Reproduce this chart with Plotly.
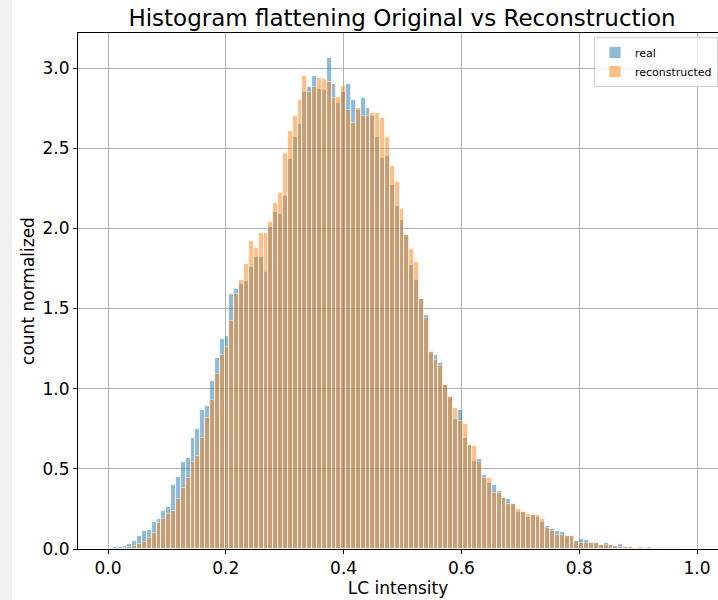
import numpy as np
import plotly.graph_objects as go

# ---- data ----
BIN_START = 0.0
BIN_END = 0.99
N_BINS = 120

real = [
    0.005, 0.01, 0.015, 0.02, 0.03, 0.05, 0.08, 0.11, 0.12, 0.17,
    0.19, 0.24, 0.26, 0.40, 0.45, 0.54, 0.57, 0.69, 0.75, 0.87,
    0.89, 1.05, 1.19, 1.31, 1.33, 1.59, 1.62, 1.65, 1.67, 1.76,
    1.82, 1.82, 1.73, 2.01, 2.10, 2.09, 2.20, 2.43, 2.57, 2.65,
    2.85, 2.88, 2.95, 2.87, 2.86, 3.06, 2.90, 2.78, 2.85, 2.90,
    2.80, 2.74, 2.81, 2.75, 2.70, 2.57, 2.44, 2.45, 2.27, 2.14,
    2.05, 1.96, 1.77, 1.68, 1.56, 1.46, 1.23, 1.21, 1.16, 1.02,
    0.95, 0.81, 0.87, 0.69, 0.65, 0.55, 0.56, 0.46, 0.41, 0.40,
    0.36, 0.32, 0.31, 0.28, 0.23, 0.23, 0.20, 0.21, 0.20, 0.17,
    0.145, 0.125, 0.11, 0.105, 0.08, 0.08, 0.05, 0.065, 0.055, 0.035,
    0.035, 0.025, 0.035, 0.025, 0.02, 0.03, 0.012, 0.01, 0.008, 0.015,
    0.006, 0.01, 0.005, 0.004, 0.004, 0.004, 0.007, 0.003, 0.002, 0.001,
]

reconstructed = [
    0.0, 0.002, 0.003, 0.005, 0.01, 0.02, 0.03, 0.045, 0.07, 0.10,
    0.16, 0.19, 0.22, 0.24, 0.31, 0.38, 0.44, 0.54, 0.58, 0.69,
    0.82, 0.93, 1.09, 1.21, 1.26, 1.42, 1.59, 1.68, 1.78, 1.92,
    1.88, 1.97, 1.97, 2.04, 2.16, 2.22, 2.47, 2.61, 2.70, 2.80,
    2.95, 2.85, 2.88, 2.94, 2.93, 2.91, 2.81, 2.82, 2.89, 2.74,
    2.66, 2.75, 2.70, 2.70, 2.72, 2.72, 2.69, 2.57, 2.39, 2.29,
    2.12, 1.96, 1.87, 1.79, 1.56, 1.44, 1.23, 1.18, 1.14, 1.02,
    0.95, 0.88, 0.80, 0.78, 0.65, 0.64, 0.54, 0.44, 0.44, 0.35,
    0.35, 0.32, 0.28, 0.28, 0.25, 0.23, 0.22, 0.21, 0.21, 0.19,
    0.13, 0.11, 0.09, 0.085, 0.08, 0.08, 0.05, 0.04, 0.035, 0.035,
    0.035, 0.025, 0.025, 0.025, 0.02, 0.015, 0.012, 0.01, 0.008, 0.008,
    0.006, 0.005, 0.005, 0.004, 0.003, 0.003, 0.003, 0.002, 0.001, 0.0,
]

x_ticks = [0.0, 0.2, 0.4, 0.6, 0.8, 1.0]
y_ticks = [0.0, 0.5, 1.0, 1.5, 2.0, 2.5, 3.0]

# ---- derived bins ----
edges = np.linspace(BIN_START, BIN_END, N_BINS + 1)
centers = (edges[:-1] + edges[1:]) / 2
width = edges[1] - edges[0]

FONT = "DejaVu Sans"

fig = go.Figure()
fig.add_trace(go.Bar(
    x=centers, y=real, width=width, name="real",
    marker=dict(color="#1f77b4", line=dict(color="white", width=0.8)),
    opacity=0.5,
))
fig.add_trace(go.Bar(
    x=centers, y=reconstructed, width=width, name="reconstructed",
    marker=dict(color="#ff7f0e", line=dict(color="white", width=0.8)),
    opacity=0.5,
))

L, T, B = 78, 33, 51
W, H = 718, 600
plot_w = W - L
plot_h = H - T - B

fig.update_layout(
    width=W, height=H,
    margin=dict(l=L, r=0, t=T, b=B, pad=0, autoexpand=False),
    barmode="overlay",
    bargap=0,
    paper_bgcolor="white",
    plot_bgcolor="white",
    font=dict(family=FONT, color="black", size=17),
    title=dict(
        text="Histogram flattening Original vs Reconstruction",
        font=dict(family=FONT, size=23, color="black"),
        x=402 / W, xanchor="center", xref="container",
        y=1 - 18 / H, yanchor="middle", yref="container",
    ),
    showlegend=True,
    legend=dict(
        x=1.0, xanchor="right",
        y=(549 - 37) / plot_h, yanchor="top",
        bgcolor="rgba(255,255,255,0.85)",
        bordercolor="#d0d0d0", borderwidth=1,
        font=dict(family=FONT, size=11, color="black"),
        itemwidth=30, tracegroupgap=0,
    ),
    xaxis=dict(
        range=[(L - 108) / 589, (W - 108) / 589],
        tickvals=x_ticks,
        ticktext=[f"{v:.1f}" for v in x_ticks],
        showgrid=True, gridcolor="#b0b0b0", gridwidth=1,
        zeroline=False,
        showline=True, linecolor="black", linewidth=1, mirror=True,
        ticks="outside", ticklen=4, tickcolor="black", tickwidth=1,
        tickfont=dict(family=FONT, size=17, color="black"),
        title=dict(text="LC intensity", font=dict(family=FONT, size=17, color="black"), standoff=3),
    ),
    yaxis=dict(
        range=[0, (549 - T) / 160.33],
        tickvals=y_ticks,
        ticktext=[f"{v:.1f}" for v in y_ticks],
        showgrid=True, gridcolor="#b0b0b0", gridwidth=1,
        zeroline=False,
        showline=True, linecolor="black", linewidth=1, mirror=False,
        ticks="outside", ticklen=4, tickcolor="black", tickwidth=1,
        tickfont=dict(family=FONT, size=17, color="black"),
        title=dict(text="count normalized", font=dict(family=FONT, size=17, color="black"), standoff=3),
    ),
    shapes=[dict(
        type="rect", xref="paper", yref="paper",
        x0=(0 - L) / plot_w, x1=(12 - L) / plot_w,
        y0=(549 - H) / plot_h, y1=(549 - 0) / plot_h,
        fillcolor="#eff1f1", line=dict(width=0), layer="below",
    )],
)

fig.write_html("out.html")
